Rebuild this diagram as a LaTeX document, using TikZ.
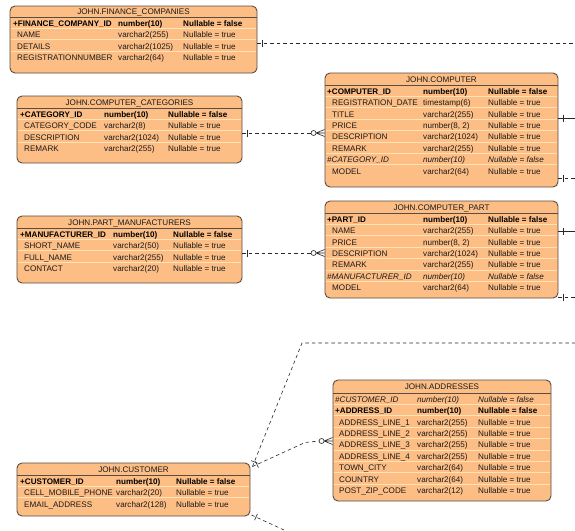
\documentclass[tikz,border=0pt]{standalone}
\usepackage{fontspec}
\setmainfont{Liberation Sans}
\usetikzlibrary{fit,calc}
\definecolor{tblfill}{RGB}{253,190,134}
\definecolor{sepc}{RGB}{255,226,182}
\definecolor{bordc}{RGB}{90,76,64}
\definecolor{linec}{RGB}{40,40,40}
\tikzset{
  tbl/.style={draw=bordc, fill=tblfill, rounded corners=5pt, line width=0.9pt, inner sep=0pt},
  hdrline/.style={draw=bordc, line width=0.9pt},
  sepline/.style={draw=sepc, line width=0.8pt},
  txt/.style={font=\fontsize{8.1}{9}\selectfont, inner sep=0pt, text=black!90},
  key/.style={font=\fontsize{8.1}{9}\selectfont\bfseries, inner sep=0pt, text=black},
  fk/.style={font=\fontsize{8.1}{9}\selectfont\itshape, inner sep=0pt, text=black!90},
  ttl/.style={font=\fontsize{8.1}{9}\selectfont, inner sep=0pt, text=black!90, anchor=base},
  conn/.style={draw=linec, line width=0.6pt, dash pattern=on 3.5pt off 3pt},
  solidconn/.style={draw=linec, line width=0.6pt},
  tickmark/.style={draw=linec, line width=0.6pt}
}
% name, left, top, right, bottom, header y, rows, title
\newcommand\erbox[8]{%
  \def\tn{#1}\def\hy{#6}%
  \node[tbl, fit={(#2,#3) (#4,#5)}] (#1) {};
  \draw[hdrline] (#2,#6) -- (#4,#6);
  \pgfmathtruncatemacro\nsep{#7-1}
  \foreach \k in {1,...,\nsep} {\draw[sepline] ({#2+0.6},{#6+\k*11.4}) -- ({#4-0.6},{#6+\k*11.4});}
  \node[ttl] (#1-t) at ({(#2+#4)/2},{(#3+#6)/2+3.4}) {#8};
}
\newcommand\cols[4]{\def\cK{#1}\def\cN{#2}\def\cB{#3}\def\cC{#4}}
% index, style, name x, name, type, nullable
\newcommand\erow[6]{%
  \node[#2, anchor=base west] (\tn-#1a) at (#3,{\hy+(#1-0.5)*11.4+3.5}) {#4};
  \node[#2, anchor=base west] (\tn-#1b) at (\cB,{\hy+(#1-0.5)*11.4+3.5}) {#5};
  \node[#2, anchor=base west] (\tn-#1c) at (\cC,{\hy+(#1-0.5)*11.4+3.5}) {#6};
}
\begin{document}
\begin{tikzpicture}[x=1pt,y=-1pt]
\useasboundingbox[fill=white] (0,0) rectangle (575,530);

% FINANCE_COMPANIES
\erbox{fin}{10}{6}{257}{73}{17}{4}{JOHN.FINANCE\_COMPANIES}
\cols{13}{17}{118}{183}
\erow{1}{key}{\cK}{+FINANCE\_COMPANY\_ID}{number(10)}{Nullable = false}
\erow{2}{txt}{\cN}{NAME}{varchar2(255)}{Nullable = true}
\erow{3}{txt}{\cN}{DETAILS}{varchar2(1025)}{Nullable = true}
\erow{4}{txt}{\cN}{REGISTRATIONNUMBER}{varchar2(64)}{Nullable = true}

% COMPUTER_CATEGORIES
\erbox{cat}{17}{96}{242}{163}{108}{4}{JOHN.COMPUTER\_CATEGORIES}
\cols{20}{24}{104}{168}
\erow{1}{key}{\cK}{+CATEGORY\_ID}{number(10)}{Nullable = false}
\erow{2}{txt}{\cN}{CATEGORY\_CODE}{varchar2(8)}{Nullable = true}
\erow{3}{txt}{\cN}{DESCRIPTION}{varchar2(1024)}{Nullable = true}
\erow{4}{txt}{\cN}{REMARK}{varchar2(255)}{Nullable = true}

% PART_MANUFACTURERS
\erbox{man}{17}{216}{242}{283}{228}{4}{JOHN.PART\_MANUFACTURERS}
\cols{20}{24}{113}{173}
\erow{1}{key}{\cK}{+MANUFACTURER\_ID}{number(10)}{Nullable = false}
\erow{2}{txt}{\cN}{SHORT\_NAME}{varchar2(50)}{Nullable = true}
\erow{3}{txt}{\cN}{FULL\_NAME}{varchar2(255)}{Nullable = true}
\erow{4}{txt}{\cN}{CONTACT}{varchar2(20)}{Nullable = true}

% COMPUTER
\erbox{comp}{325}{73}{558}{187}{85}{8}{JOHN.COMPUTER}
\cols{327}{332}{423}{488}
\erow{1}{key}{\cK}{+COMPUTER\_ID}{number(10)}{Nullable = false}
\erow{2}{txt}{\cN}{REGISTRATION\_DATE}{timestamp(6)}{Nullable = true}
\erow{3}{txt}{\cN}{TITLE}{varchar2(255)}{Nullable = true}
\erow{4}{txt}{\cN}{PRICE}{number(8, 2)}{Nullable = true}
\erow{5}{txt}{\cN}{DESCRIPTION}{varchar2(1024)}{Nullable = true}
\erow{6}{txt}{\cN}{REMARK}{varchar2(255)}{Nullable = true}
\erow{7}{fk}{\cK}{\#CATEGORY\_ID}{number(10)}{Nullable = false}
\erow{8}{txt}{\cN}{MODEL}{varchar2(64)}{Nullable = true}

% COMPUTER_PART
\erbox{part}{325}{201}{558}{298}{213}{7}{JOHN.COMPUTER\_PART}
\cols{327}{332}{423}{488}
\erow{1}{key}{\cK}{+PART\_ID}{number(10)}{Nullable = false}
\erow{2}{txt}{\cN}{NAME}{varchar2(255)}{Nullable = true}
\erow{3}{txt}{\cN}{PRICE}{number(8, 2)}{Nullable = true}
\erow{4}{txt}{\cN}{DESCRIPTION}{varchar2(1024)}{Nullable = true}
\erow{5}{txt}{\cN}{REMARK}{varchar2(255)}{Nullable = true}
\erow{6}{fk}{\cK}{\#MANUFACTURER\_ID}{number(10)}{Nullable = false}
\erow{7}{txt}{\cN}{MODEL}{varchar2(64)}{Nullable = true}

% ADDRESSES
\erbox{addr}{333}{380}{551}{501}{393}{9}{JOHN.ADDRESSES}
\cols{335}{339}{417}{478}
\erow{1}{fk}{\cK}{\#CUSTOMER\_ID}{number(10)}{Nullable = false}
\erow{2}{key}{\cK}{+ADDRESS\_ID}{number(10)}{Nullable = false}
\erow{3}{txt}{\cN}{ADDRESS\_LINE\_1}{varchar2(255)}{Nullable = true}
\erow{4}{txt}{\cN}{ADDRESS\_LINE\_2}{varchar2(255)}{Nullable = true}
\erow{5}{txt}{\cN}{ADDRESS\_LINE\_3}{varchar2(255)}{Nullable = true}
\erow{6}{txt}{\cN}{ADDRESS\_LINE\_4}{varchar2(255)}{Nullable = true}
\erow{7}{txt}{\cN}{TOWN\_CITY}{varchar2(64)}{Nullable = true}
\erow{8}{txt}{\cN}{COUNTRY}{varchar2(64)}{Nullable = true}
\erow{9}{txt}{\cN}{POST\_ZIP\_CODE}{varchar2(12)}{Nullable = true}

% CUSTOMER
\erbox{cust}{17}{463}{250}{516}{475}{3}{JOHN.CUSTOMER}
\cols{20}{24}{116}{176}
\erow{1}{key}{\cK}{+CUSTOMER\_ID}{number(10)}{Nullable = false}
\erow{2}{txt}{\cN}{CELL\_MOBILE\_PHONE}{varchar2(20)}{Nullable = true}
\erow{3}{txt}{\cN}{EMAIL\_ADDRESS}{varchar2(128)}{Nullable = true}

% ---------- connector end points ----------
\coordinate (f1) at (fin.east |- 0,43);   \coordinate (fE) at (575,43);
\coordinate (c1) at (cat.east |- 0,133);  \coordinate (c2) at (comp.west |- 0,133);
\coordinate (m1) at (man.east |- 0,253);  \coordinate (m2) at (part.west |- 0,253);
\coordinate (k1) at (comp.east |- 0,118); \coordinate (kE1) at (575,118);
\coordinate (k2) at (comp.east |- 0,178); \coordinate (kE2) at (575,178);
\coordinate (p1) at (part.east |- 0,231); \coordinate (pE1) at (575,231);
\coordinate (p2) at (part.east |- 0,297); \coordinate (pE2) at (575,297);
\coordinate (a1) at (addr.west |- 0,441);
\coordinate (u1) at ([shift={(2,4)}]cust.north east);
\coordinate (uV) at (302,343); \coordinate (uE) at (575,343);
\coordinate (uA) at (305,442.5);
\coordinate (u2) at ([shift={(1,-1.5)}]cust.south east);
\coordinate (uE2) at (284,530);

% finance -> right
\draw[conn] (f1) -- (fE);
\draw[tickmark] ([xshift=5pt]f1) ++(0,-3.5) -- ++(0,7);

% one-to-many with circle and crow's foot
\foreach \s/\e in {c1/c2, m1/m2} {
  \draw[conn] (\s) -- ([xshift=-13.5pt]\e);
  \draw[tickmark] ([xshift=5pt]\s) ++(0,-3.5) -- ++(0,7);
  \draw[tickmark] ([xshift=-11pt]\e) circle (2.5pt);
  \draw[tickmark] ([xshift=-8.5pt]\e) -- ([yshift=-3.5pt]\e)
                  ([xshift=-8.5pt]\e) -- (\e)
                  ([xshift=-8.5pt]\e) -- ([yshift=3.5pt]\e);
}

% right-hand exits
\foreach \s/\e in {k1/kE1, p1/pE1} {
  \draw[solidconn] (\s) -- (\e);
  \draw[tickmark] ([xshift=5pt]\s) ++(0,-3.5) -- ++(0,7);
}
\foreach \s/\e in {k2/kE2, p2/pE2} {
  \draw[conn] (\s) -- (\e);
  \draw[tickmark] ([xshift=5pt]\s) ++(0,-3.5) -- ++(0,7);
}

% customer connectors
\draw[conn] (u1) -- (uV) -- (uE);
\draw[tickmark] ($(u1)!5pt!(uV)!3.5pt!90:(uV)$) -- ($(u1)!5pt!(uV)!3.5pt!-90:(uV)$);
\draw[conn] (u1) -- (uA) -- ([xshift=-13.5pt]a1);
\draw[tickmark] ($(u1)!5pt!(uA)!3.5pt!90:(uA)$) -- ($(u1)!5pt!(uA)!3.5pt!-90:(uA)$);
\draw[tickmark] ([xshift=-11pt]a1) circle (2.5pt);
\draw[tickmark] ([xshift=-8.5pt]a1) -- ([yshift=-3.5pt]a1)
                ([xshift=-8.5pt]a1) -- (a1)
                ([xshift=-8.5pt]a1) -- ([yshift=3.5pt]a1);
\draw[conn] (u2) -- (uE2);
\draw[tickmark] ($(u2)!5pt!(uE2)!3.5pt!90:(uE2)$) -- ($(u2)!5pt!(uE2)!3.5pt!-90:(uE2)$);
\end{tikzpicture}
\end{document}
